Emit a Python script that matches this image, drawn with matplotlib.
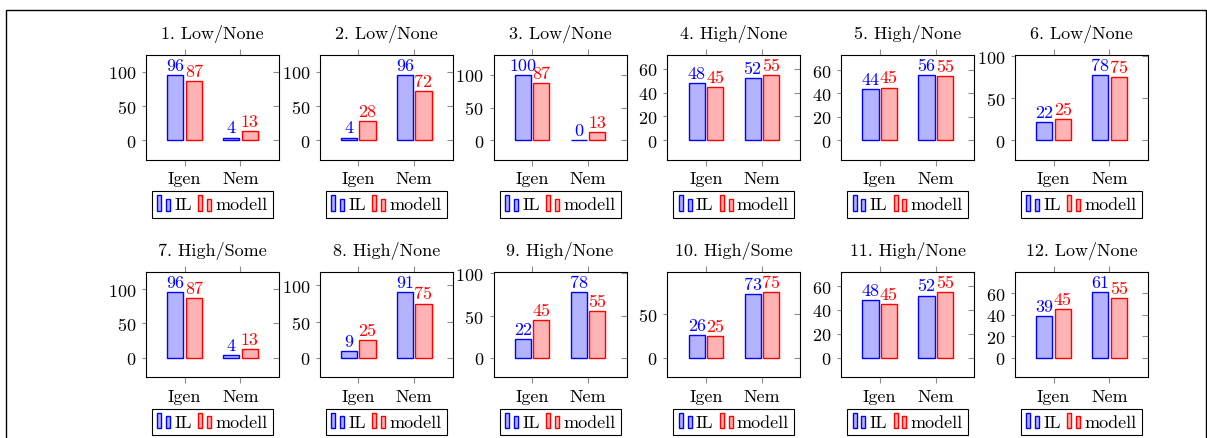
import matplotlib
matplotlib.use('Agg')
import matplotlib.pyplot as plt
from matplotlib.patches import Rectangle
from matplotlib.legend_handler import HandlerBase
from matplotlib.ticker import MultipleLocator
import numpy as np

plt.rcParams['font.family'] = 'cmr10'
plt.rcParams['mathtext.fontset'] = 'cm'
plt.rcParams['axes.formatter.use_mathtext'] = True
plt.rcParams['font.size'] = 13

# data
titles = ['1. Low/None', '2. Low/None', '3. Low/None', '4. High/None',
          '5. High/None', '6. Low/None', '7. High/Some', '8. High/None',
          '9. High/None', '10. High/Some', '11. High/None', '12. Low/None']
categories = ['Igen', 'Nem']
il_values = [[96, 4], [4, 96], [100, 0], [48, 52], [44, 56], [22, 78],
             [96, 4], [9, 91], [22, 78], [26, 73], [48, 52], [39, 61]]
modell_values = [[87, 13], [28, 72], [87, 13], [45, 55], [45, 55], [25, 75],
                 [87, 13], [25, 75], [45, 55], [25, 75], [45, 55], [45, 55]]
series_names = ['IL', 'modell']


# pgfplots style legend image: two small bars
class TwoBars(HandlerBase):
    def create_artists(self, legend, orig_handle, xdescent, ydescent,
                       width, height, fontsize, trans):
        fc = orig_handle.get_facecolor()
        ec = orig_handle.get_edgecolor()
        w = width * 0.3
        r1 = Rectangle((-xdescent, -ydescent - 0.1 * height), w, height * 1.2,
                       facecolor=fc, edgecolor=ec, lw=1, transform=trans)
        r2 = Rectangle((-xdescent + 0.65 * width, -ydescent - 0.1 * height), w,
                       height * 0.95, facecolor=fc, edgecolor=ec, lw=1,
                       transform=trans)
        return [r1, r2]


W, H = 1207, 439
fig = plt.figure(figsize=(W / 100, H / 100), dpi=100)

# frame around the whole thing
fig.add_artist(Rectangle((6 / W, -0.05), 1200 / W, (H - 11) / H + 0.05,
                         transform=fig.transFigure, fill=False,
                         edgecolor='black', lw=1))

lefts = [146 + i * 173.8 for i in range(6)]
bottoms = [161, 378.3]
aw, ah = 133, 105
x = np.arange(len(categories))

for k in range(12):
    r, c = divmod(k, 6)
    ax = fig.add_axes([lefts[c] / W, (H - bottoms[r]) / H, aw / W, ah / H])
    b1 = ax.bar(x - 0.165, il_values[k], 0.29, facecolor='#b3b3ff',
                edgecolor='blue', lw=1)
    b2 = ax.bar(x + 0.165, modell_values[k], 0.29, facecolor='#ffb3b3',
                edgecolor='red', lw=1)
    ax.bar_label(b1, color='blue', padding=1.5)
    ax.bar_label(b2, color='red', padding=1.5)

    m = max(il_values[k] + modell_values[k])
    ax.set_ylim(-0.3 * m, 1.3 * m)
    ax.set_xlim(-0.69, 1.69)
    step = 50 if m >= 70 else 20
    ax.yaxis.set_major_locator(MultipleLocator(step))
    ax.set_xticks(x, categories)
    ax.tick_params(axis='x', direction='out', top=True, length=4,
                   color='0.55', pad=4)
    ax.tick_params(axis='y', direction='out', length=3, color='0.55', pad=4)
    for s in ax.spines.values():
        s.set_linewidth(0.8)

    sec = ax.secondary_yaxis('right')
    sec.yaxis.set_major_locator(MultipleLocator(step))
    sec.tick_params(direction='in', length=4.5, color='0.55', labelright=False)
    sec.spines['right'].set_visible(False)

    ax.text(0.5, 1 + 22 / ah, titles[k], ha='center', va='center',
            transform=ax.transAxes)

    leg = ax.legend([b1.patches[0], b2.patches[0]], series_names,
                    handler_map={Rectangle: TwoBars()}, loc='upper center',
                    bbox_to_anchor=(0.5, -0.298), ncol=2, fancybox=False,
                    edgecolor='black', framealpha=1, borderaxespad=0,
                    borderpad=0.3, handlelength=0.75, handletextpad=0.2,
                    columnspacing=0.35, handleheight=0.7)
    leg.get_frame().set_linewidth(0.8)

fig.savefig('out.png', dpi=100)
